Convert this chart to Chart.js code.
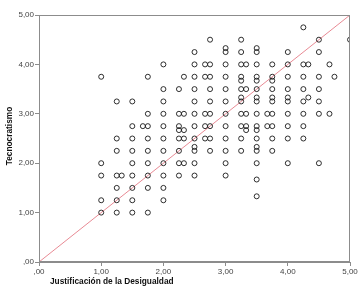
<!DOCTYPE html>
<html><head><meta charset="utf-8">
<script src="https://cdn.jsdelivr.net/npm/chart.js@4/dist/chart.umd.min.js"></script>
<style>html,body{margin:0;padding:0;background:#fff}#wrap{width:363px;height:292px}canvas{display:block}</style>
</head><body><div id="wrap"><canvas id="c" width="363" height="292"></canvas></div>
<script>
const xTickLabels = [",00", "1,00", "2,00", "3,00", "4,00", "5,00"];
const yTickLabels = [",00", "1,00", "2,00", "3,00", "4,00", "5,00"];
const xTitle = "Justificación de la Desigualdad";
const yTitle = "Tecnocratismo";

// Justificación de la Desigualdad (x) and Tecnocratismo (y), read row by row
const justificacion = [
  4.25,
  2.75, 3.25, 4.5, 5.0,
  3.0, 3.5,
  2.5, 3.0, 3.25, 3.5, 4.0, 4.5,
  2.0, 2.5, 2.67, 2.75, 3.0, 3.25, 3.33, 3.5, 3.75, 4.0, 4.25, 4.33, 4.67,
  1.0, 1.75, 2.33, 2.5, 2.67, 2.75, 3.0, 3.25, 3.5, 3.75, 4.0, 4.25, 4.5, 4.75,
  3.25, 3.5, 3.75,
  2.0, 2.25, 2.5, 2.75, 3.0, 3.25, 3.33, 3.5, 3.75, 4.0, 4.25, 4.5,
  3.25, 3.5, 3.75, 4.0, 4.33,
  1.25, 1.5, 2.0, 2.5, 2.75, 3.0, 3.25, 3.5, 3.75, 4.0, 4.25, 4.5,
  1.75, 2.0, 2.25, 2.33, 2.5, 2.67, 2.75, 3.0, 3.25, 3.33, 3.5, 3.67, 3.75, 4.0, 4.25, 4.5, 4.67,
  1.5, 1.67, 1.75, 2.0, 2.25, 2.5, 2.67, 2.75, 3.0, 3.25, 3.33, 3.5, 3.67, 3.75, 4.0, 4.25,
  2.25, 2.33, 3.33, 3.5,
  1.25, 1.5, 1.75, 2.0, 2.25, 2.33, 2.5, 2.67, 2.75, 3.0, 3.25, 3.5, 3.75, 4.0, 4.25,
  2.5, 3.5,
  1.25, 1.5, 1.75, 2.0, 2.25, 2.5, 2.75, 3.0, 3.25, 3.5, 3.75,
  1.0, 1.5, 1.75, 2.0, 2.25, 2.33, 2.5, 3.0, 3.5, 4.0, 4.5,
  1.0, 1.25, 1.33, 1.5, 1.75, 2.0, 2.25, 2.5, 3.0,
  3.5,
  1.25, 1.5, 1.75, 2.0,
  3.5,
  1.0, 1.25, 1.5, 2.0,
  1.0, 1.25, 1.5, 1.75
];
const tecnocratismo = [
  4.75,
  4.5, 4.5, 4.5, 4.5,
  4.33, 4.33,
  4.25, 4.25, 4.25, 4.25, 4.25, 4.25,
  4.0, 4.0, 4.0, 4.0, 4.0, 4.0, 4.0, 4.0, 4.0, 4.0, 4.0, 4.0, 4.0,
  3.75, 3.75, 3.75, 3.75, 3.75, 3.75, 3.75, 3.75, 3.75, 3.75, 3.75, 3.75, 3.75, 3.75,
  3.67, 3.67, 3.67,
  3.5, 3.5, 3.5, 3.5, 3.5, 3.5, 3.5, 3.5, 3.5, 3.5, 3.5, 3.5,
  3.33, 3.33, 3.33, 3.33, 3.33,
  3.25, 3.25, 3.25, 3.25, 3.25, 3.25, 3.25, 3.25, 3.25, 3.25, 3.25, 3.25,
  3.0, 3.0, 3.0, 3.0, 3.0, 3.0, 3.0, 3.0, 3.0, 3.0, 3.0, 3.0, 3.0, 3.0, 3.0, 3.0, 3.0,
  2.75, 2.75, 2.75, 2.75, 2.75, 2.75, 2.75, 2.75, 2.75, 2.75, 2.75, 2.75, 2.75, 2.75, 2.75, 2.75,
  2.67, 2.67, 2.67, 2.67,
  2.5, 2.5, 2.5, 2.5, 2.5, 2.5, 2.5, 2.5, 2.5, 2.5, 2.5, 2.5, 2.5, 2.5, 2.5,
  2.33, 2.33,
  2.25, 2.25, 2.25, 2.25, 2.25, 2.25, 2.25, 2.25, 2.25, 2.25, 2.25,
  2.0, 2.0, 2.0, 2.0, 2.0, 2.0, 2.0, 2.0, 2.0, 2.0, 2.0,
  1.75, 1.75, 1.75, 1.75, 1.75, 1.75, 1.75, 1.75, 1.75,
  1.67,
  1.5, 1.5, 1.5, 1.5,
  1.33,
  1.25, 1.25, 1.25, 1.25,
  1.0, 1.0, 1.0, 1.0
];
const refLineX = [0, 5];
const refLineY = [0, 5];

const points = justificacion.map((x, i) => ({ x: x, y: tecnocratismo[i] }));
const refLine = refLineX.map((x, i) => ({ x: x, y: refLineY[i] }));

const AXIS = '#8c8c8c';
const framePlugin = {
  id: 'frame',
  afterDraw(chart) {
    const ctx = chart.ctx, a = chart.chartArea;
    ctx.save();
    ctx.strokeStyle = AXIS;
    ctx.lineWidth = 1;
    ctx.strokeRect(Math.round(a.left) + 0.5, Math.round(a.top) + 0.5,
                   Math.round(a.right - a.left) - 1, Math.round(a.bottom - a.top) - 1);
    ctx.fillStyle = '#111';
    ctx.font = 'bold 8.3px "Liberation Sans", Arial, sans-serif';
    ctx.textBaseline = 'middle';
    ctx.textAlign = 'left';
    ctx.fillText(xTitle, 50, 282);
    ctx.translate(10, 136);
    ctx.rotate(-Math.PI / 2);
    ctx.textAlign = 'center';
    ctx.fillText(yTitle, 0, 0);
    ctx.restore();
  }
};

new Chart(document.getElementById('c'), {
  type: 'scatter',
  data: {
    datasets: [
      {
        data: points,
        pointStyle: 'circle',
        pointRadius: 2.5,
        pointHoverRadius: 2.5,
        borderWidth: 1,
        borderColor: 'rgba(25,25,25,0.9)',
        backgroundColor: 'rgba(0,0,0,0)',
        order: 1
      },
      {
        data: refLine,
        showLine: true,
        pointRadius: 0,
        borderWidth: 1,
        borderColor: '#e88a94',
        backgroundColor: 'rgba(0,0,0,0)',
        order: 2
      }
    ]
  },
  options: {
    responsive: false,
    animation: false,
    devicePixelRatio: 1,
    layout: { padding: { top: 15, right: 13, left: 0, bottom: 0 } },
    plugins: { legend: { display: false }, tooltip: { enabled: false } },
    scales: {
      x: {
        type: 'linear', min: 0, max: 5,
        ticks: {
          stepSize: 1, padding: 1, color: '#444',
          font: { size: 8, family: '"Liberation Sans", Arial, sans-serif' },
          maxRotation: 0,
          callback: (v) => xTickLabels[Math.round(v)]
        },
        grid: { drawOnChartArea: false, drawTicks: true, tickLength: 4, tickColor: AXIS },
        border: { display: true, color: AXIS },
        afterFit: (s) => { s.height = 30; }
      },
      y: {
        type: 'linear', min: 0, max: 5,
        ticks: {
          stepSize: 1, padding: 1, color: '#444',
          font: { size: 8, family: '"Liberation Sans", Arial, sans-serif' },
          callback: (v) => yTickLabels[Math.round(v)]
        },
        grid: { drawOnChartArea: false, drawTicks: true, tickLength: 4, tickColor: AXIS },
        border: { display: true, color: AXIS },
        afterFit: (s) => { s.width = 39; }
      }
    }
  },
  plugins: [framePlugin]
});
</script>
</body></html>
